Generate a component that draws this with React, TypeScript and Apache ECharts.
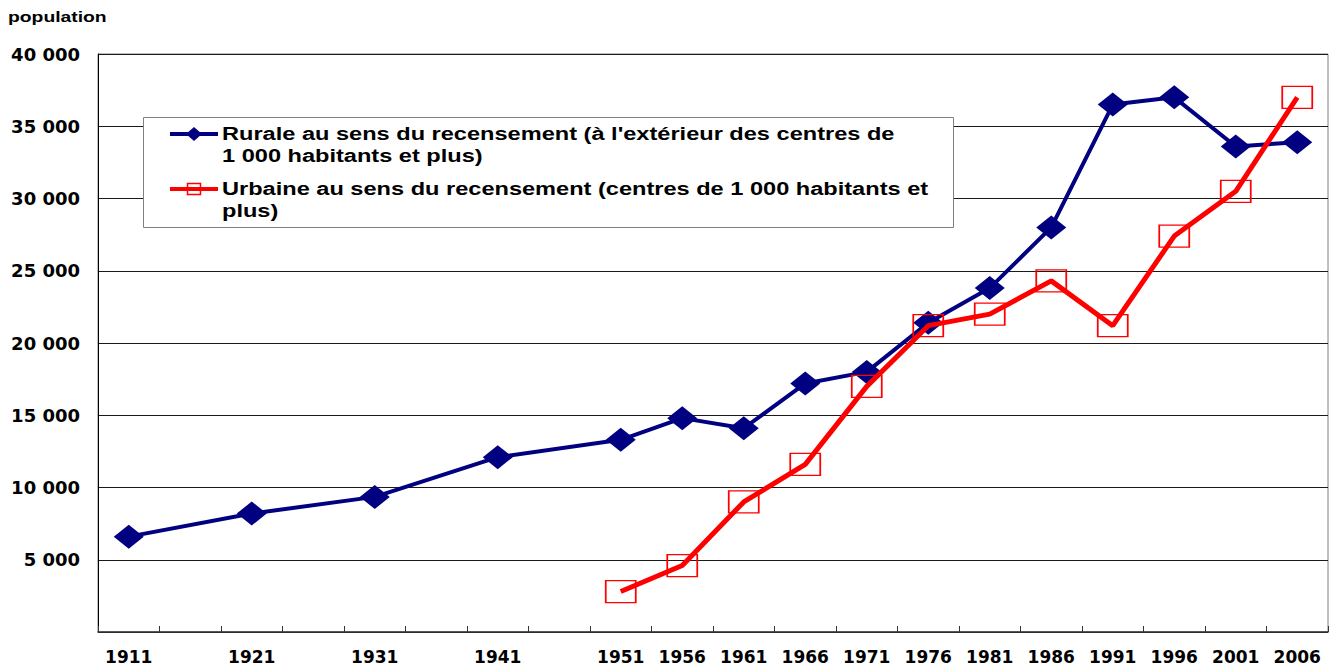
import React, { useEffect, useRef } from "react";
import * as echarts from "echarts";

// Axis categories (5-year steps of the census axis)
const axisCategories = [
  "1911", "1916", "1921", "1926", "1931", "1936", "1941", "1946", "1951", "1956",
  "1961", "1966", "1971", "1976", "1981", "1986", "1991", "1996", "2001", "2006",
];
// Census years that carry data / labels
const censusYears = [
  "1911", "1921", "1931", "1941", "1951", "1956", "1961", "1966", "1971", "1976",
  "1981", "1986", "1991", "1996", "2001", "2006",
];
const ruralValues = [
  6600, 8200, 9350, 12100, 13300, 14800, 14100, 17200, 18000, 21400,
  23800, 28000, 36500, 37000, 33600, 33900,
];
const urbanValues: (number | null)[] = [
  null, null, null, null, 2800, 4600, 9000, 11600, 17000, 21200,
  22000, 24300, 21200, 27400, 30500, 37000,
];
const ruralName = "Rurale au sens du recensement (à l'extérieur des centres de\n1 000 habitants et plus)";
const urbanName = "Urbaine au sens du recensement (centres de 1 000 habitants et\nplus)";
const yAxisTitle = "population";

const toAxis = (vals: (number | null)[]) =>
  axisCategories.map((c) => {
    const i = censusYears.indexOf(c);
    return i < 0 ? null : vals[i];
  });

const fmt = (v: number) =>
  v === 0 ? "" : String(v).replace(/\B(?=(\d{3})+(?!\d))/g, " ");

export default function App() {
  const ref = useRef<HTMLDivElement>(null);
  useEffect(() => {
    if (!ref.current) return;
    const chart = echarts.init(ref.current, undefined, { renderer: "svg" });
    const labelFont = {
      fontFamily: "DejaVu Sans",
      fontWeight: "bold" as const,
      fontSize: 18,
      color: "#000",
    };
    const legendFont = 'bold 18px "Liberation Sans", Arial, sans-serif';
    chart.setOption({
      animation: false,
      backgroundColor: "#fff",
      grid: {
        left: 98,
        top: 54,
        right: 8,
        bottom: 34,
        show: true,
        borderColor: "#808080",
        borderWidth: 1,
        backgroundColor: "transparent",
        outerBoundsMode: "none",
        containLabel: false,
      },
      xAxis: {
        type: "category",
        data: axisCategories,
        boundaryGap: true,
        axisLine: { lineStyle: { color: "#333", width: 1.5 } },
        axisTick: { show: true, inside: true, length: 6, interval: 0, lineStyle: { color: "#333" } },
        axisLabel: {
          ...labelFont,
          fontSize: 17,
          margin: 16,
          interval: (_i: number, v: string) => censusYears.includes(v),
        },
        splitLine: { show: false },
      },
      yAxis: {
        type: "value",
        min: 0,
        max: 40000,
        interval: 5000,
        axisLine: { show: true, lineStyle: { color: "#000", width: 1 } },
        axisTick: { show: false },
        axisLabel: { ...labelFont, margin: 18, formatter: fmt },
        splitLine: { show: true, lineStyle: { color: "#1a1a1a", width: 1 } },
      },
      series: [
        {
          name: ruralName,
          type: "line",
          data: toAxis(ruralValues),
          connectNulls: true,
          symbol: "diamond",
          symbolSize: [30, 24],
          itemStyle: { color: "#000080" },
          lineStyle: { color: "#000080", width: 4 },
          z: 3,
        },
        {
          name: urbanName,
          type: "line",
          data: toAxis(urbanValues),
          connectNulls: true,
          symbol: "rect",
          symbolSize: [30, 22],
          itemStyle: { color: "rgba(255,255,255,0)", borderColor: "#ff0000", borderWidth: 1.5 },
          lineStyle: { color: "#ff0000", width: 5 },
          z: 4,
        },
      ],
      graphic: [
        {
          type: "text",
          x: 8,
          y: 17,
          scaleX: 1.38,
          z: 100,
          style: { text: yAxisTitle, x: 0, y: 0, font: 'bold 14px "Liberation Sans", Arial, sans-serif', fill: "#000", verticalAlign: "middle" },
        },
        {
          type: "rect",
          z: 100,
          shape: { x: 143.5, y: 117.5, width: 810, height: 110 },
          style: { fill: "#fff", stroke: "#808080", lineWidth: 1 },
        },
        {
          type: "line",
          z: 101,
          shape: { x1: 170, y1: 134, x2: 218, y2: 134 },
          style: { stroke: "#000080", lineWidth: 4 },
        },
        {
          type: "polygon",
          z: 102,
          shape: { points: [[194, 127], [202, 134], [194, 141], [186, 134]] },
          style: { fill: "#000080" },
        },
        {
          type: "text",
          x: 222,
          y: 123,
          scaleX: 1.31,
          z: 101,
          style: { text: ruralName, x: 0, y: 0, font: legendFont, fill: "#000", lineHeight: 22, verticalAlign: "top" },
        },
        {
          type: "line",
          z: 101,
          shape: { x1: 170, y1: 189, x2: 218, y2: 189 },
          style: { stroke: "#ff0000", lineWidth: 4 },
        },
        {
          type: "rect",
          z: 102,
          shape: { x: 187.5, y: 183.5, width: 13, height: 11 },
          style: { fill: "none", stroke: "#ff0000", lineWidth: 1.5 },
        },
        {
          type: "text",
          x: 222,
          y: 178,
          scaleX: 1.31,
          z: 101,
          style: { text: urbanName, x: 0, y: 0, font: legendFont, fill: "#000", lineHeight: 22, verticalAlign: "top" },
        },
      ],
    });
    return () => chart.dispose();
  }, []);
  return (
    <div
      ref={ref}
      style={{ position: "absolute", left: 0, top: 0, width: 1336, height: 666 }}
    />
  );
}
